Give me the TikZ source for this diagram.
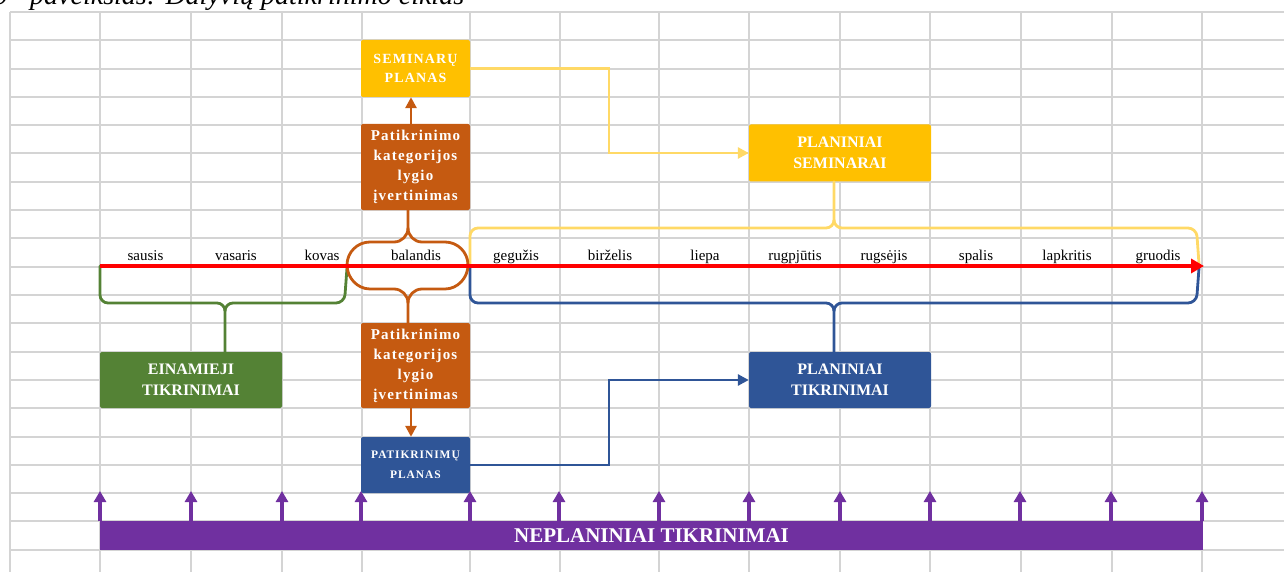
\documentclass[tikz,border=0pt]{standalone}
\usepackage{fontspec}
\setmainfont{Liberation Serif}
\newfontfamily\boxfont[LetterSpace=8]{Liberation Serif}
\usetikzlibrary{arrows.meta}
\definecolor{gridc}{HTML}{D4D4D4}
\definecolor{yellowbox}{HTML}{FFC000}
\definecolor{yellowline}{HTML}{FFD966}
\definecolor{orangec}{HTML}{C55A11}
\definecolor{greenc}{HTML}{548235}
\definecolor{bluec}{HTML}{2F5597}
\definecolor{purplec}{HTML}{7030A0}
\definecolor{redc}{HTML}{FF0000}
\tikzset{
  gridline/.style={draw=gridc, line width=2pt},
  box/.style={rectangle, rounded corners=2pt, inner sep=0pt, text=white, align=center},
  smallbox/.style={box, minimum width=109pt},
  widebox/.style={box, minimum width=182pt, minimum height=57pt, font=\bfseries\fontsize{16}{21}\selectfont},
  evalfont/.style={font=\boxfont\bfseries\fontsize{15}{20}\selectfont},
  month/.style={anchor=base, inner sep=0pt, font=\fontsize{15}{18}\selectfont},
  bracel/.style={line width=2.8pt, line cap=round, line join=round},
  conn/.style={line width=2.8pt, -{Triangle[length=11pt,width=11pt]}},
  parrow/.style={draw=purplec, line width=3.2pt, -{Triangle[length=11pt,width=12pt]}},
}
\begin{document}
\begin{tikzpicture}[x=1pt,y=-1pt]
\useasboundingbox (0,0) rectangle (1284,572);
% grid
\foreach \k in {0,...,19} \draw[gridline] (10,{12+28.3*\k}) -- (1284,{12+28.3*\k});
\foreach \x in {10,100,191,282,362,470,560,659,749,840,930,1021,1112,1202} \draw[gridline] (\x,12) -- (\x,572);
% caption
\node[anchor=base west, inner sep=0pt, font=\itshape\fontsize{28}{30}\selectfont] (cap) at (-6,5) {9\hspace{15pt} paveikslas: Dalyvių patikrinimo ciklas};
% coordinates
\coordinate (ym) at (609,0);
\coordinate (oa) at (411,0);
\coordinate (ostem) at (408,0);
\coordinate (gstem) at (225,0);
\coordinate (bstem) at (834,0);
% boxes
\node[smallbox, fill=yellowbox, minimum height=57pt, font=\boxfont\bfseries\fontsize{14}{19}\selectfont] (semplan) at (415.5,68.5) {SEMINARŲ\\PLANAS};
\node[smallbox, fill=orangec, minimum height=86pt, evalfont] (evaltop) at (415.5,167) {Patikrinimo\\kategorijos\\lygio\\įvertinimas};
\node[widebox, fill=yellowbox] (plansem) at (840,153) {PLANINIAI\\SEMINARAI};
\node[widebox, fill=greenc, minimum width=182pt, minimum height=56pt] (einam) at (191,380) {EINAMIEJI\\TIKRINIMAI};
\node[smallbox, fill=orangec, minimum height=85pt, evalfont] (evalbot) at (415.5,365.5) {Patikrinimo\\kategorijos\\lygio\\įvertinimas};
\node[smallbox, fill=bluec, minimum height=56pt, font=\boxfont\bfseries\fontsize{11.5}{20}\selectfont] (patplan) at (415.5,465) {PATIKRINIMŲ\\PLANAS};
\node[widebox, fill=bluec, minimum height=56pt] (plantik) at (840,380) {PLANINIAI\\TIKRINIMAI};
\node[box, fill=purplec, minimum width=1103pt, minimum height=29pt, rounded corners=0pt, font=\bfseries\fontsize{21}{24}\selectfont] (neplan) at (651.5,535.5) {NEPLANINIAI TIKRINIMAI};
% months
\foreach \m/\x [count=\i] in {sausis/145.5,vasaris/236,kovas/322,balandis/416,gegužis/516,birželis/610,liepa/705,rugpjūtis/795,rugsėjis/884,spalis/976,lapkritis/1067,gruodis/1158}
  \node[month] (m\i) at (\x,260) {\m};
% yellow brace (above axis, May-Dec)
\draw[bracel, draw=yellowline] (470,264) -- (470,236) .. controls (470,231.6) and (473.6,228) .. (478,228) -- (826,228) .. controls (830.4,228) and (834,224.4) .. (834,220) -- (plansem.south -| bstem);
\draw[bracel, draw=yellowline] (1199,264) -- (1197,236) .. controls (1196.5,231.6) and (1192.4,228) .. (1188,228) -- (842,228) .. controls (837.6,228) and (834,224.4) .. (834,220);
% blue brace (below axis, May-Dec)
\draw[bracel, draw=bluec] (470,268) -- (470,295) .. controls (470,299.4) and (473.6,303) .. (478,303) -- (826,303) .. controls (830.4,303) and (834,306.6) .. (834,311) -- (plantik.north -| bstem);
\draw[bracel, draw=bluec] (1199,268) -- (1197,295) .. controls (1196.5,299.4) and (1192.4,303) .. (1188,303) -- (842,303) .. controls (837.6,303) and (834,306.6) .. (834,311);
% green brace (below axis, Jan-Mar)
\draw[bracel, draw=greenc] (100,266) -- (100,295) .. controls (100,299.4) and (103.6,303) .. (108,303) -- (217,303) .. controls (221.4,303) and (225,306.6) .. (225,311) -- (einam.north -| gstem);
\draw[bracel, draw=greenc] (347,268) -- (345,295) .. controls (344.5,299.4) and (340.4,303) .. (336,303) -- (233,303) .. controls (228.6,303) and (225,306.6) .. (225,311);
% orange braces around April
\draw[bracel, draw=orangec] (347,265) .. controls (347,252.3) and (357.3,242) .. (370,242) -- (394,242) .. controls (401.7,242) and (408,235.7) .. (408,228) -- (evaltop.south -| ostem);
\draw[bracel, draw=orangec] (468,265) .. controls (468,252.3) and (457.7,242) .. (445,242) -- (422,242) .. controls (414.3,242) and (408,235.7) .. (408,228);
\draw[bracel, draw=orangec] (347,265) .. controls (347,277.7) and (357.3,289) .. (370,289) -- (394,289) .. controls (401.7,289) and (408,295.3) .. (408,303) -- (evalbot.north -| ostem);
\draw[bracel, draw=orangec] (468,265) .. controls (468,277.7) and (457.7,289) .. (445,289) -- (422,289) .. controls (414.3,289) and (408,295.3) .. (408,303);
% red time axis
\coordinate (ax0) at (100,266);
\coordinate (ax1) at (1204,266);
\draw[draw=redc, line width=4.5pt, -{Triangle[length=13pt,width=14pt]}] (ax0) -- (ax1);
% connectors
\draw[conn, draw=yellowline] (semplan.east) -- (semplan.east -| ym) |- (plansem.west);
\draw[conn, draw=bluec] (patplan.east) -- (patplan.east -| ym) |- (plantik.west);
\draw[conn, draw=orangec] (evaltop.north -| oa) -- (semplan.south -| oa);
\draw[conn, draw=orangec] (evalbot.south -| oa) -- (patplan.north -| oa);
% purple arrows
\foreach \x [count=\i] in {100,191,282,361,470,559,659,749,840,930,1020,1111,1202}{
  \coordinate (pt\i) at (\x,491);
  \draw[parrow] (neplan.north -| pt\i) -- (pt\i);
}
\end{tikzpicture}
\end{document}
